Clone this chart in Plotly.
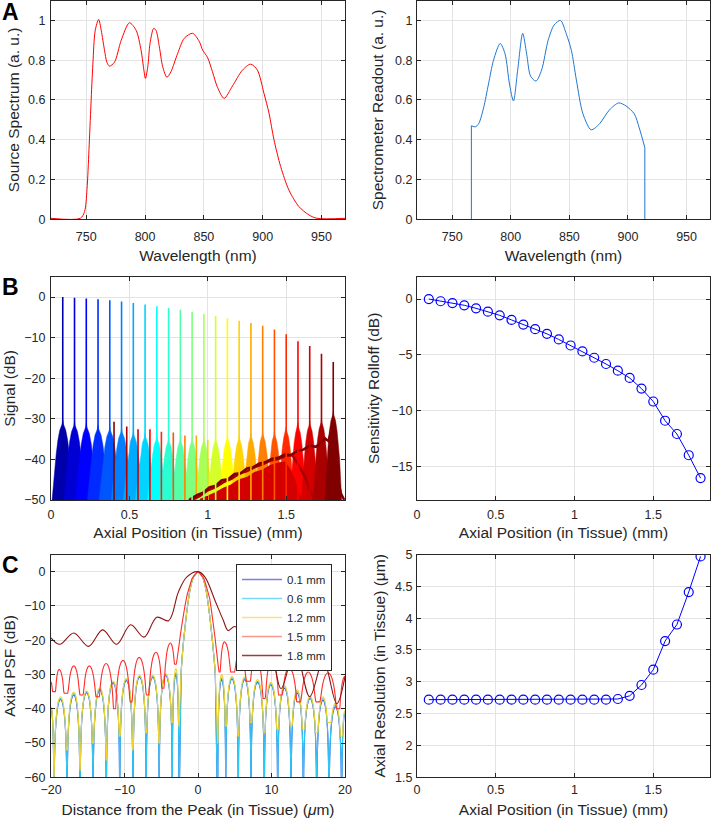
import math
import plotly.graph_objects as go

# ----------------------------- data -----------------------------
# Panel A (left): source spectrum
SRC_WL = [720, 745, 748.6, 750.6, 752.3, 754, 755.6, 757.6, 760.5, 762.7, 765.5, 767.5, 769.8, 774,
          779.7, 786.7, 792.4, 796.6, 798.6, 800.3, 802.3, 804.2, 807.3, 809.3, 812.1, 815, 818.6,
          822, 827.7, 833.3, 840.4, 846, 849, 853, 857.3, 861.6, 867.2, 874.3, 882.8, 889.8, 895.5,
          901.1, 905.4, 909.6, 915.3, 922.3, 930.8, 939.3, 946.3, 970]
SRC_VAL = [0.005, 0.005, 0.04, 0.15, 0.35, 0.58, 0.78, 0.95, 1.005, 0.95, 0.85, 0.79, 0.77, 0.79,
           0.9, 0.988, 0.95, 0.85, 0.767, 0.708, 0.767, 0.884, 0.96, 0.95, 0.868, 0.767, 0.714,
           0.742, 0.834, 0.91, 0.935, 0.895, 0.85, 0.815, 0.742, 0.663, 0.608, 0.67, 0.75, 0.78, 0.75,
           0.633, 0.533, 0.4, 0.265, 0.147, 0.064, 0.022, 0.005, 0.005]

# Panel A (right): spectrometer readout
RD_WL = [766.4, 766.4, 769.8, 772.6, 776.8, 781, 785.3, 791, 795.2, 798.9, 802.3, 805.9, 810.2,
         813.6, 816.9, 821.5, 826.3, 831.9, 837, 842.4, 847.5, 851.7, 856, 861.6, 868.6, 875.7,
         884.2, 892.1, 898.3, 905.4, 909.6, 914.4, 914.4]
RD_VAL = [0, 0.47, 0.465, 0.48, 0.56, 0.68, 0.8, 0.884, 0.83, 0.68, 0.595, 0.75, 0.935, 0.83, 0.72,
          0.695, 0.75, 0.9, 0.977, 1.0, 0.93, 0.85, 0.7, 0.53, 0.45, 0.48, 0.55, 0.585, 0.57, 0.53,
          0.46, 0.36, 0]

# Panel B: 24 mirror positions
SCAN_POS_MM = [0.075, 0.15, 0.225, 0.3, 0.375, 0.45, 0.525, 0.6, 0.675, 0.75, 0.825, 0.9, 0.975,
               1.05, 1.125, 1.2, 1.275, 1.35, 1.425, 1.5, 1.575, 1.65, 1.725, 1.8]
ROLLOFF_DB = [0, -0.2, -0.36, -0.56, -0.83, -1.13, -1.46, -1.87, -2.29, -2.7, -3.12, -3.62, -4.16,
              -4.69, -5.26, -5.82, -6.42, -7.07, -8.02, -9.18, -10.9, -12.09, -13.99, -16.04]
SIDELOBE_DB = [-30.3, -30.7, -31.1, -31.5, -31.9, -32.3, -33, -33.5, -34, -34.5, -34.5, -34.5, -34.5,
               -34.5, -34, -34, -33.5, -33, -33, -32, -31, -30.5, -30, -28]
SKIRT_HALF_MM = [0.068, 0.068, 0.068, 0.068, 0.068, 0.066, 0.064, 0.062, 0.06, 0.058, 0.057, 0.056,
                 0.055, 0.055, 0.055, 0.055, 0.055, 0.055, 0.053, 0.053, 0.053, 0.053, 0.053, 0.053]
# mirror artefacts (thin spikes)
ART_POS_MM = [0.402, 0.483, 0.555, 0.631, 0.704, 0.78, 0.854, 0.927, 1.0]
ART_DB = [-30.7, -31.9, -32.6, -32.6, -33.2, -33.4, -34.1, -34.1, -35.2]
ART_SCAN = [24, 23, 22, 21, 20, 19, 18, 17, 16]
# noise floors of the deepest scans
NOISE24_X = [0.88, 0.93, 0.97, 1.01, 1.05, 1.09, 1.13, 1.17, 1.21, 1.25, 1.29, 1.33, 1.37, 1.41, 1.45,
             1.49, 1.53, 1.57, 1.61, 1.65, 1.69, 1.72, 1.75, 1.77, 1.785, 1.81, 1.83, 1.85, 1.87]
NOISE24_DB = [-50, -48.8, -48.2, -46.9, -46.5, -45.1, -44.9, -43.6, -43.4, -42.2, -41.9, -41.0, -40.6,
              -39.8, -39.6, -38.8, -38.9, -37.9, -37.6, -36.6, -36.9, -35.8, -34.9, -35.5, -33, -41,
              -45, -48.5, -50]
NOISE23_X = [0.9, 0.95, 1.0, 1.05, 1.1, 1.15, 1.2, 1.25, 1.3, 1.35, 1.4, 1.45, 1.5, 1.54, 1.58, 1.62,
             1.65, 1.68]
NOISE23_DB = [-50, -49, -47.6, -46.8, -45.6, -44.8, -43.5, -42.9, -41.9, -41.2, -40.3, -39.9, -39.1,
              -39.0, -41.5, -44.3, -47.5, -50]
NOISE22_X = [0.95, 1.0, 1.05, 1.1, 1.15, 1.2, 1.25, 1.3, 1.35, 1.4, 1.45, 1.49, 1.52, 1.55, 1.58, 1.6]
NOISE22_DB = [-50, -49.2, -48.3, -47.2, -46.4, -45.1, -44.6, -43.3, -42.7, -41.6, -41.0, -40.8, -42.4,
              -45, -48.5, -50]
NOISE21_X = [1.0, 1.05, 1.1, 1.15, 1.2, 1.25, 1.3, 1.35, 1.38, 1.41, 1.44, 1.47]
NOISE21_DB = [-50, -49.4, -48.2, -47.1, -46.3, -45.0, -44.2, -43.5, -44.1, -46, -48.4, -50]

# Panel C (right): axial resolution
RESOLUTION_UM = [2.72, 2.72, 2.72, 2.72, 2.72, 2.72, 2.72, 2.72, 2.72, 2.72, 2.72, 2.72, 2.72, 2.72,
                 2.72, 2.72, 2.73, 2.78, 2.95, 3.19, 3.64, 3.9, 4.41, 4.97]

# Panel C (left): axial PSFs, listed as successive extrema (distance in um, level in dB)
PSF01_X = [-20, -19.6, -18.7, -17.82, -16.9, -16.05, -15.15, -14.28, -13.35, -12.47, -11.55, -10.65,
           -9.75, -8.85, -7.95, -7.05, -6.15, -5.28, -4.4, -3.5, -3.0, -2.6, -2.3, -2.0, -1.6, -1.1,
           -0.6, 0, 0.6, 1.1, 1.6, 2.0, 2.35, 2.68, 3.22, 3.77, 4.62, 5.48, 6.35, 7.21, 8.1, 9.02,
           9.9, 10.84, 11.75, 12.65, 13.5, 14.33, 15.25, 16.15, 17.0, 17.82, 18.7, 19.55, 20]
PSF01_DB = [-40, -75, -37.3, -75, -36, -75, -35.3, -75, -34.5, -75, -32.5, -75, -31.8, -75, -30.8,
            -75, -30.8, -75, -30.3, -75, -30, -75, -30, -21, -13, -5.5, -1.5, 0, -1.5, -5.5, -13,
            -21, -30, -75, -31.5, -75, -31.3, -75, -31.5, -75, -32.3, -75, -33, -75, -34, -75,
            -35.5, -75, -37, -75, -37.5, -75, -39.5, -75, -41.5]
PSF06_DB = [-39.6, -75, -37, -75, -35.6, -75, -35, -75, -34.2, -75, -32.2, -75, -31.5, -75, -30.5,
            -75, -30.5, -75, -30, -75, -29.5, -75, -29.8, -21, -13, -5.5, -1.5, 0, -1.5, -5.5, -13,
            -21, -29.8, -75, -31, -75, -31, -75, -31.2, -75, -32, -75, -32.7, -75, -33.6, -75,
            -35, -75, -36.7, -75, -37, -75, -39, -75, -41]
PSF12_DB = [-39.4, -60, -36.5, -52, -35.1, -58, -34.8, -50, -33.8, -55, -31.9, -48, -31.2, -52, -30.2,
            -47, -30.2, -50, -29.7, -44, -28.3, -45, -29.5, -21, -13, -5.5, -1.5, 0, -1.5, -5.5, -13,
            -21, -29.5, -50, -30, -45, -30.5, -48, -30.7, -44, -31.5, -47, -32.3, -46, -33.2, -45,
            -34.5, -46, -36.3, -47, -36.5, -44, -38.3, -48, -40.5]
PSF15_X = [-20, -19.6, -18.9, -17.95, -16.9, -15.85, -14.8, -13.65, -12.5, -11.35, -10.2, -9.1, -8.0,
           -6.85, -5.7, -4.75, -3.75, -2.95, -2.3, -1.5, -0.8, 0, 0.8, 1.6, 2.3, 2.86, 3.58, 4.67,
           5.71, 6.8, 7.9, 9.0, 10.0, 11.2, 12.4, 13.7, 15.0, 16.3, 17.7, 19.1, 20]
PSF15_DB = [-32.2, -35, -28.5, -35.5, -27.5, -36, -27.5, -36.5, -26.8, -40, -25.9, -38, -25, -36,
            -23.5, -34, -20.8, -27, -17, -7, -2, 0, -2, -8, -19, -29.3, -20.5, -29.3, -23.4, -32,
            -25, -37, -26, -36, -28, -38, -29.3, -38, -29.5, -40, -30.5]
PSF18_X = [-20, -18.8, -16.9, -14.9, -12.97, -11.06, -9.16, -7.35, -5.6, -4.0, -2.68, -1.54, 0, 0.95,
           2.31, 3.44, 4.1, 5.0, 6.3, 7.8, 9.5, 11.3, 13.2, 15.2, 17.05, 18.87, 20]
PSF18_DB = [-19.3, -21.2, -17.9, -21.8, -17, -21.2, -15.5, -19.1, -13.3, -14.3, -6, -1.6, 0, -1.6,
            -8.4, -14.2, -17.2, -16, -18.5, -25.9, -19, -34.1, -22.5, -36.5, -25.9, -38.5, -30.6]
PSF_LABELS = ["0.1 mm", "0.6 mm", "1.2 mm", "1.5 mm", "1.8 mm"]

# ----------------------------- styles -----------------------------
FONT = "Liberation Sans, Arial, Helvetica, sans-serif"
INK = "#262626"
W, H = 713, 818


def jet(n):
    m = math.ceil(n / 4)
    u = [i / m for i in range(1, m + 1)] + [1.0] * (m - 1) + [i / m for i in range(m, 0, -1)]
    g0 = math.ceil(m / 2) - (1 if n % 4 == 1 else 0)
    cols = [[0.0, 0.0, 0.0] for _ in range(n)]
    for j, uj in enumerate(u, start=1):
        g = g0 + j
        for ch, idx in ((0, g + m), (1, g), (2, g - m)):
            if 1 <= idx <= n:
                cols[idx - 1][ch] = uj
    return ["rgb(%d,%d,%d)" % tuple(round(255 * c) for c in col) for col in cols]


JET = jet(len(SCAN_POS_MM))

X_LEFT = [51 / W, 345 / W]
X_RIGHT = [417 / W, 710 / W]
Y_A = [1 - 219.3 / H, 1 - 0.5 / H]
Y_B = [1 - 500 / H, 1 - 276.7 / H]
Y_C = [1 - 777.3 / H, 1 - 554.5 / H]

fig = go.Figure()


def axis(domain, rng, dtick, title, anchor, tick0=0, standoff=8, lab_off=0):
    return dict(domain=domain, range=rng, dtick=dtick, tick0=tick0, anchor=anchor, automargin=False,
                showline=True, linecolor=INK, linewidth=1, mirror="ticks",
                ticks="inside", ticklen=4, tickcolor=INK, tickwidth=1,
                showgrid=True, gridcolor="#e3e3e3", gridwidth=1, zeroline=False,
                ticklabelstandoff=lab_off,
                tickfont=dict(family=FONT, size=12.5, color=INK),
                title=dict(text=title, standoff=standoff,
                           font=dict(family=FONT, size=15.5, color=INK)))


layout = dict(
    width=W, height=H, margin=dict(l=0, r=0, t=0, b=0),
    paper_bgcolor="white", plot_bgcolor="white",
    font=dict(family=FONT, color=INK),
    showlegend=True,
    legend=dict(x=332 / W, xanchor="right", y=1 - 564 / H, yanchor="top",
                bgcolor="white", bordercolor=INK, borderwidth=1,
                font=dict(family=FONT, size=11.5, color=INK), tracegroupgap=0,
                itemwidth=40),
)
# A
layout["xaxis"] = axis(X_LEFT, [720, 970], 50, "Wavelength (nm)", "y", tick0=750, standoff=6, lab_off=6)
layout["yaxis"] = axis(Y_A, [0, 1.1], 0.2, "Source Spectrum (a. u.)", "x", standoff=4, lab_off=2)
layout["xaxis2"] = axis(X_RIGHT, [720, 970], 50, "Wavelength (nm)", "y2", tick0=750, standoff=6, lab_off=6)
layout["yaxis2"] = axis(Y_A, [0, 1.1], 0.2, "Spectrometer Readout (a. u.)", "x2", standoff=7, lab_off=1)
# B
layout["xaxis3"] = axis(X_LEFT, [0, 1.875], 0.5, "Axial Position (in Tissue) (mm)", "y3",
                        standoff=6, lab_off=3)
layout["yaxis3"] = axis(Y_B, [-50, 5], 10, "Signal (dB)", "x3", standoff=4, lab_off=2)
layout["xaxis4"] = axis(X_RIGHT, [0, 1.86], 0.5, "Axial Position (in Tissue) (mm)", "y4",
                        standoff=6, lab_off=3)
layout["yaxis4"] = axis(Y_B, [-18, 2], 5, "Sensitivity Rolloff (dB)", "x4", standoff=7, lab_off=1)
# C
layout["xaxis5"] = axis(X_LEFT, [-20, 20], 10, "Distance from the Peak (in Tissue) (<i>μ</i>m)", "y5",
                        standoff=8, lab_off=1)
layout["yaxis5"] = axis(Y_C, [-60, 5], 10, "Axial PSF (dB)", "x5", standoff=4, lab_off=2)
layout["xaxis6"] = axis(X_RIGHT, [0, 1.86], 0.5, "Axial Position (in Tissue) (mm)", "y6",
                        standoff=8, lab_off=1)
layout["yaxis6"] = axis(Y_C, [1.5, 5], 0.5, "Axial Resolution (in Tissue) (μm)", "x6",
                        standoff=5, lab_off=1)
fig.update_layout(**layout)

# ---- Panel A ----
fig.add_trace(go.Scatter(x=SRC_WL, y=SRC_VAL, mode="lines",
                         line=dict(color="#ff0000", width=1, shape="spline", smoothing=0.8),
                         xaxis="x", yaxis="y", showlegend=False, hoverinfo="skip"))
BLUE_A = "#1f77d0"
fig.add_trace(go.Scatter(x=RD_WL[1:-1], y=RD_VAL[1:-1], mode="lines",
                         line=dict(color=BLUE_A, width=1, shape="spline", smoothing=0.8),
                         xaxis="x2", yaxis="y2", showlegend=False, hoverinfo="skip"))
for sl in (slice(0, 2), slice(-2, None)):
    fig.add_trace(go.Scatter(x=RD_WL[sl], y=RD_VAL[sl], mode="lines",
                             line=dict(color=BLUE_A, width=1),
                             xaxis="x2", yaxis="y2", showlegend=False, hoverinfo="skip"))

# ---- Panel B left ----
# fringe-envelope profile of one A-scan (fraction of half-width, dB below side-lobe level)
SKIRT_DX = [-1.0, -0.77, -0.62, -0.46, -0.28, -0.06, 0.0, 0.06, 0.28, 0.46, 0.62, 0.77, 1.0]
SKIRT_DROP = [None, 12, 8.5, 5, 2.5, 1, 0, 1, 2.5, 5, 8.5, 12, None]
FLOOR = -50
for k, (p, sl, w) in enumerate(zip(SCAN_POS_MM, SIDELOBE_DB, SKIRT_HALF_MM)):
    xs = [p + w * d for d in SKIRT_DX]
    ys = [FLOOR if d is None else sl - d for d in SKIRT_DROP]
    fig.add_trace(go.Scatter(x=xs, y=ys, mode="lines", fill="toself", fillcolor=JET[k],
                             line=dict(color=JET[k], width=0.5),
                             xaxis="x3", yaxis="y3", showlegend=False, hoverinfo="skip"))
for xs_, ys_, ci in ((NOISE21_X, NOISE21_DB, 20), (NOISE22_X, NOISE22_DB, 21)):
    fig.add_trace(go.Scatter(x=xs_, y=ys_, mode="lines", fill="toself", fillcolor=JET[ci],
                             line=dict(color=JET[ci], width=2),
                             xaxis="x3", yaxis="y3", showlegend=False, hoverinfo="skip"))
for p, top, ci in zip(ART_POS_MM, ART_DB, ART_SCAN):
    fig.add_trace(go.Scatter(x=[p, p], y=[FLOOR, top], mode="lines",
                             line=dict(color=JET[ci - 1], width=1.6),
                             xaxis="x3", yaxis="y3", showlegend=False, hoverinfo="skip"))
for xs_, ys_, ci in ((NOISE23_X, NOISE23_DB, 22), (NOISE24_X, NOISE24_DB, 23)):
    fig.add_trace(go.Scatter(x=xs_, y=ys_, mode="lines",
                             line=dict(color=JET[ci], width=2.5),
                             xaxis="x3", yaxis="y3", showlegend=False, hoverinfo="skip"))
for k, (p, pk) in enumerate(zip(SCAN_POS_MM, ROLLOFF_DB)):
    fig.add_trace(go.Scatter(x=[p, p], y=[FLOOR, pk], mode="lines",
                             line=dict(color=JET[k], width=1.6),
                             xaxis="x3", yaxis="y3", showlegend=False, hoverinfo="skip"))

# ---- Panel B right ----
fig.add_trace(go.Scatter(x=SCAN_POS_MM, y=ROLLOFF_DB, mode="lines+markers",
                         line=dict(color="#0000ff", width=1),
                         marker=dict(symbol="circle-open", size=9, color="#0000ff",
                                     line=dict(width=1.2, color="#0000ff")),
                         xaxis="x4", yaxis="y4", showlegend=False, hoverinfo="skip"))

# ---- Panel C left ----
MAIN_LOBE_HALF = 2.5          # inside this, extrema lists already trace the main lobe
ARCH_F = [0.2, 0.4, 0.55, 0.7, 0.8, 0.88, 0.94, 0.98]


def arched(xs, ys):
    """Join successive side-lobe extrema with dB-arch shaped segments (rounded tops, cusped nulls)."""
    ox, oy = [xs[0]], [ys[0]]
    for (x1, y1), (x2, y2) in zip(zip(xs[:-1], ys[:-1]), zip(xs[1:], ys[1:])):
        if abs(x1) >= MAIN_LOBE_HALF and abs(x2) >= MAIN_LOBE_HALF and y1 != y2:
            hi_x, hi_y, lo_x, lo_y = (x1, y1, x2, y2) if y1 > y2 else (x2, y2, x1, y1)
            seg = []
            for f in ARCH_F:
                drop = min(hi_y - lo_y, 20 * math.log10(1 / math.cos(math.pi * f / 2)))
                seg.append((hi_x + (lo_x - hi_x) * f, hi_y - drop))
            if y1 < y2:
                seg.reverse()
            for a, b in seg:
                ox.append(a)
                oy.append(b)
        ox.append(x2)
        oy.append(y2)
    return ox, oy


PSF_COLORS = ["rgba(30,30,200,0.85)", "#2ec8f5", "#f2d22e", "#ff2b2b", "#8e1414"]
LEGEND_COLORS = ["#7d7de3", "#78dcf8", "#f7e27f", "#f79a8c", "#a33a3a"]
PSF_X = [PSF01_X, PSF01_X, PSF01_X, PSF15_X]
PSF_Y = [PSF01_DB, PSF06_DB, PSF12_DB, PSF15_DB]
for xs_, ys_, c in zip(PSF_X, PSF_Y, PSF_COLORS):
    ax_, ay_ = arched(xs_, ys_)
    fig.add_trace(go.Scatter(x=ax_, y=ay_, mode="lines",
                             line=dict(color=c, width=1.1, shape="spline", smoothing=0.3),
                             xaxis="x5", yaxis="y5", showlegend=False, hoverinfo="skip"))
fig.add_trace(go.Scatter(x=PSF18_X, y=PSF18_DB, mode="lines",
                         line=dict(color=PSF_COLORS[4], width=1.1, shape="spline", smoothing=1.0),
                         xaxis="x5", yaxis="y5", showlegend=False, hoverinfo="skip"))
for lab, c in zip(PSF_LABELS, LEGEND_COLORS):
    fig.add_trace(go.Scatter(x=[None], y=[None], mode="lines", name=lab,
                             line=dict(color=c, width=1.5), xaxis="x5", yaxis="y5"))

# ---- Panel C right ----
fig.add_trace(go.Scatter(x=SCAN_POS_MM, y=RESOLUTION_UM, mode="lines+markers",
                         line=dict(color="#0000ff", width=1),
                         marker=dict(symbol="circle-open", size=9, color="#0000ff",
                                     line=dict(width=1.2, color="#0000ff")),
                         xaxis="x6", yaxis="y6", showlegend=False, hoverinfo="skip"))

# panel letters
for letter, ypix in (("A", 12), ("B", 287), ("C", 565)):
    fig.add_annotation(text="<b>%s</b>" % letter, xref="paper", yref="paper", x=0, y=1 - ypix / H,
                       xanchor="left", yanchor="middle", showarrow=False,
                       font=dict(family=FONT, size=23, color="black"))

fig.write_html("out.html", config={"displayModeBar": False},
               post_script="document.body.style.margin='0px';document.body.style.overflow='hidden';")
